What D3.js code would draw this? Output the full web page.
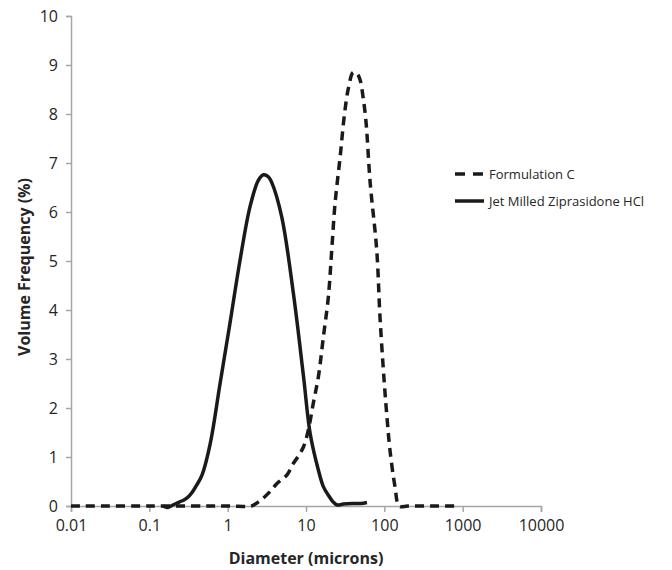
<!DOCTYPE html>
<html>
<head>
<meta charset="utf-8">
<script src="https://cdn.jsdelivr.net/npm/d3@7"></script>
<style>
  body { margin: 0; background: #fff; }
  svg { display: block; }
</style>
</head>
<body>
<div id="chart"></div>
<script>
// particle size distributions, diameter in microns vs volume frequency (%)
const formulationC = [
  [0.01, 0], [0.1, 0], [1, 0], [2, 0], [2.2, 0.03], [2.8, 0.15], [3.5, 0.3],
  [4.2, 0.45], [4.7, 0.52], [5.7, 0.63], [6.9, 0.87], [8, 1.02], [9.3, 1.21],
  [10.7, 1.55], [12.4, 2.1], [14.4, 2.64], [16.7, 3.46], [19.3, 4.27],
  [21.3, 5.22], [23.5, 6.18], [27.3, 7.13], [31, 8.0], [35, 8.55], [40, 8.85],
  [45, 8.82], [49, 8.7], [54, 8.3], [58.5, 7.82], [66, 6.59], [80, 5.22],
  [88, 3.86], [100, 2.5], [108, 1.82], [118, 1.14], [137, 0.39], [155, 0],
  [200, 0], [400, 0], [885, 0]
];

const jetMilled = [
  [0.15, 0], [0.17, -0.03], [0.2, 0.02], [0.24, 0.08], [0.28, 0.13],
  [0.32, 0.2], [0.36, 0.3], [0.4, 0.42], [0.47, 0.63], [0.6, 1.28],
  [0.8, 2.5], [1.07, 3.73], [1.44, 5.02], [1.93, 6.11], [2.47, 6.65],
  [2.86, 6.76], [3.3, 6.72], [3.66, 6.6], [4.9, 5.9], [6.9, 4.34],
  [9.3, 2.64], [11.3, 1.48], [14.4, 0.73], [16.7, 0.39], [19.3, 0.22],
  [22, 0.09], [25, 0.02], [30, 0.04], [40, 0.05], [50, 0.05], [60, 0.07]
];

const xTicks = [0.01, 0.1, 1, 10, 100, 1000, 10000];
const xTickLabels = ['0.01', '0.1', '1', '10', '100', '1000', '10000'];
const yTicks = [0, 1, 2, 3, 4, 5, 6, 7, 8, 9, 10];
const seriesNames = ['Formulation C', 'Jet Milled Ziprasidone HCl'];

const W = 672, H = 570;
const font = '"Open Sans", "Noto Sans", sans-serif';
const axisColor = '#a6a6a6';
const textColor = '#262626';
const lineColor = '#1a1a1a';

const svg = d3.select('#chart').append('svg').attr('width', W).attr('height', H);

const x = d3.scaleLog().domain([0.01, 10000]).range([71, 541]);
const y = d3.scaleLinear().domain([0, 10]).range([506, 16]);

// y axis
const yAxis = svg.append('g')
  .attr('transform', `translate(${x(0.01)},0)`)
  .call(d3.axisLeft(y).tickValues(yTicks).tickSize(5).tickPadding(8).tickFormat(d3.format('d')));
// x axis
const xAxis = svg.append('g')
  .attr('transform', `translate(0,${y(0)})`)
  .call(d3.axisBottom(x).tickValues(xTicks).tickSize(6).tickPadding(8)
    .tickFormat((d, i) => xTickLabels[i]));

[xAxis, yAxis].forEach(g => {
  g.select('.domain').attr('stroke', axisColor).attr('stroke-width', 1.5);
  g.selectAll('.tick line').attr('stroke', axisColor).attr('stroke-width', 1.5);
  g.selectAll('.tick text')
    .attr('fill', textColor)
    .style('font-family', font)
    .style('font-size', '16px');
});

// lines
const line = d3.line()
  .x(d => x(d[0]))
  .y(d => y(d[1]))
  .curve(d3.curveCatmullRom.alpha(0.5));

svg.append('path')
  .datum(formulationC)
  .attr('d', line)
  .attr('fill', 'none')
  .attr('stroke', lineColor)
  .attr('stroke-width', 3.5)
  .attr('stroke-dasharray', '9,6');

svg.append('path')
  .datum(jetMilled)
  .attr('d', line)
  .attr('fill', 'none')
  .attr('stroke', lineColor)
  .attr('stroke-width', 3.5)
  .attr('stroke-linejoin', 'round');

// axis titles
svg.append('text')
  .attr('x', (x(0.01) + x(10000)) / 2)
  .attr('y', 564)
  .attr('text-anchor', 'middle')
  .attr('fill', textColor)
  .style('font-family', font)
  .style('font-size', '16px')
  .style('font-weight', 'bold')
  .text('Diameter (microns)');

svg.append('text')
  .attr('transform', `translate(30,${(y(0) + y(10)) / 2 + 6})rotate(-90)`)
  .attr('text-anchor', 'middle')
  .attr('fill', textColor)
  .style('font-family', font)
  .style('font-size', '16px')
  .style('font-weight', 'bold')
  .text('Volume Frequency (%)');

// legend
const legend = svg.append('g').attr('transform', 'translate(455,174)');
const items = legend.selectAll('g').data(seriesNames).join('g')
  .attr('transform', (d, i) => `translate(0,${i * 27})`);
items.append('line')
  .attr('x1', 0).attr('x2', 29)
  .attr('stroke', lineColor)
  .attr('stroke-width', 3.5)
  .attr('stroke-dasharray', (d, i) => i === 0 ? '10,8' : null);
items.append('text')
  .attr('x', 34)
  .attr('dy', '0.35em')
  .attr('fill', textColor)
  .style('font-family', font)
  .style('font-size', '13px')
  .text(d => d);
</script>
</body>
</html>
